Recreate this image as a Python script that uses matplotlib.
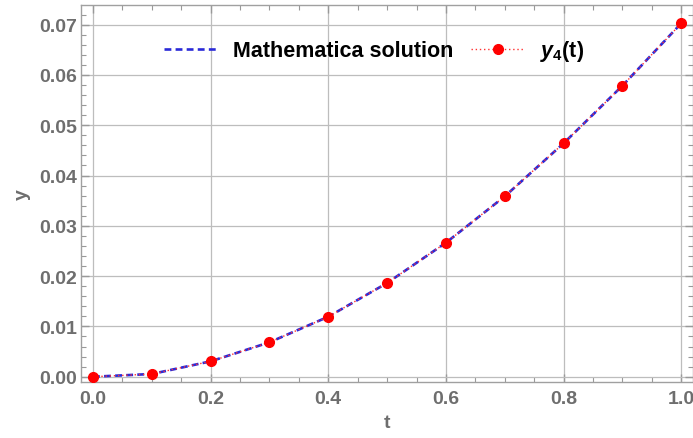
import matplotlib
matplotlib.use("Agg")
import matplotlib.pyplot as plt
from matplotlib.ticker import MultipleLocator, FormatStrFormatter

# Data
t_vals = [0.0, 0.1, 0.2, 0.3, 0.4, 0.5, 0.6, 0.7, 0.8, 0.9, 1.0]
y_mathematica = [0.0, 0.00054, 0.00306, 0.00684, 0.01193, 0.01863, 0.02664, 0.03586, 0.0464, 0.05785, 0.07026]
y4_vals = [0.0, 0.00054, 0.00306, 0.00684, 0.01193, 0.01863, 0.02664, 0.03586, 0.0464, 0.05785, 0.07026]
x_ticks = [0.0, 0.2, 0.4, 0.6, 0.8, 1.0]
y_ticks = [0.00, 0.01, 0.02, 0.03, 0.04, 0.05, 0.06, 0.07]

plt.rcParams['font.family'] = ['Liberation Sans', 'DejaVu Sans']
plt.rcParams['font.weight'] = 'bold'
plt.rcParams['mathtext.fontset'] = 'custom'
plt.rcParams['mathtext.it'] = 'Liberation Sans:italic:bold'
plt.rcParams['mathtext.rm'] = 'Liberation Sans:bold'
plt.rcParams['mathtext.bf'] = 'Liberation Sans:bold'

fig = plt.figure(figsize=(6.93, 4.39), dpi=100)
ax = fig.add_axes([81/693, 1 - 383/439, 612/693, 377/439])

ax.plot(t_vals, y_mathematica, color='#2a2ad8', lw=1.9, linestyle=(0, (2.6, 1.6)),
        label='Mathematica solution', zorder=3)
ax.plot(t_vals, y4_vals, color='#ff3030', lw=1.0, linestyle=(0, (1, 2)),
        marker='o', markersize=7, markerfacecolor='#ff0000', markeredgecolor='#ff0000',
        label=r'$y_4$(t)', zorder=4)

ax.set_xlim(-0.0204, 1.02)
ax.set_ylim(-0.00105, 0.0739)
ax.set_xticks(x_ticks)
ax.set_yticks(y_ticks)
ax.xaxis.set_major_formatter(FormatStrFormatter('%.1f'))
ax.yaxis.set_major_formatter(FormatStrFormatter('%.2f'))
ax.xaxis.set_minor_locator(MultipleLocator(0.05))
ax.yaxis.set_minor_locator(MultipleLocator(0.002))

ax.grid(True, which='major', color='#bdbdbd', lw=0.9)
ax.set_axisbelow(True)

gray = '#6e6e6e'
for s in ax.spines.values():
    s.set_color('#a0a0a0')
    s.set_linewidth(1.0)

ax.tick_params(which='both', direction='in', top=True, right=True, color='#999999',
               labelcolor=gray, labelsize=14)
ax.tick_params(which='major', length=6, width=1.0)
ax.tick_params(which='minor', length=3.5, width=0.8)
ax.tick_params(axis='y', pad=3)
ax.tick_params(axis='x', pad=6)

ax.set_xlabel('t', color=gray, fontsize=14, fontweight='bold', labelpad=5)
ax.set_ylabel('y', color=gray, fontsize=14, fontweight='bold', labelpad=6)

leg = ax.legend(loc='center', bbox_to_anchor=(0.479, 0.879), ncol=2, frameon=False,
                prop={'family': 'Liberation Sans', 'weight': 'bold', 'size': 15.5},
                handlelength=2.5, handletextpad=0.7, columnspacing=0.8, numpoints=1)

fig.savefig('out.png', dpi=100)
